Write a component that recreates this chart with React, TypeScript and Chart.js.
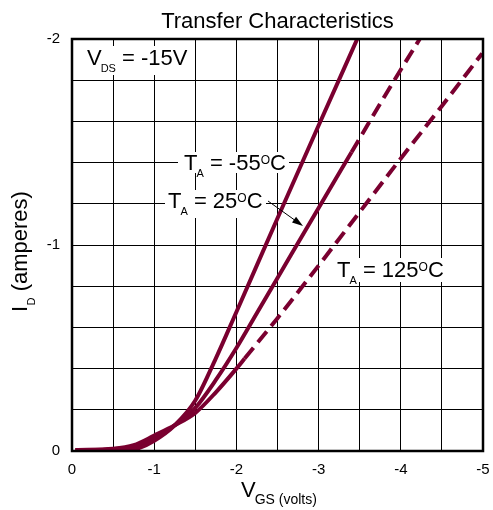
import React, { useEffect, useRef } from "react";
import { Chart, registerables } from "chart.js";

Chart.register(...registerables);

// V_GS (volts) and I_D (amperes)
const vgsM55 = [-0.6, -0.8, -1.0, -1.25, -1.5, -1.75, -2.0, -2.5, -3.0, -3.47];
const idM55 = [0.004, -0.012, -0.05, -0.125, -0.245, -0.45, -0.675, -1.13, -1.58, -2.0];

const vgs25 = [-0.04, -0.5, -0.75, -1.0, -1.25, -1.5, -1.75, -2.0, -2.25, -2.5, -3.0, -3.4, -3.8, -4.23];
const id25 = [-0.004, -0.009, -0.022, -0.06, -0.125, -0.21, -0.345, -0.5, -0.67, -0.84, -1.18, -1.45, -1.72, -2.0];

const vgs125 = [-0.04, -0.5, -0.75, -1.0, -1.25, -1.5, -1.75, -2.0, -2.1, -2.5, -3.0, -3.5, -4.0, -4.5, -4.99];
const id125 = [-0.005, -0.011, -0.028, -0.075, -0.125, -0.185, -0.285, -0.4, -0.449, -0.645, -0.9, -1.16, -1.42, -1.675, -1.93];

const dashFrom25 = -3.4;
const dashFrom125 = -2.1;

const xTickLabels = ["0", "-1", "-2", "-3", "-4", "-5"];
const yTickLabels = ["0", "-1", "-2"];

const CURVE = "#7a0030";
const FONT = '"Liberation Sans", Arial, Helvetica, sans-serif';
const f = (s: number) => `${s}px ${FONT}`;

type Part = [string, "n" | "s" | "p"];

function drawRich(ctx: CanvasRenderingContext2D, x: number, y: number, parts: Part[], main = 22, small = 11) {
  let cx = x;
  for (const [t, k] of parts) {
    if (k === "n") {
      ctx.font = f(main);
      ctx.fillText(t, cx, y);
      cx += ctx.measureText(t).width;
    } else if (k === "s") {
      ctx.font = f(small);
      cx -= 1;
      ctx.fillText(t, cx, y + 7);
      cx += ctx.measureText(t).width;
    } else {
      ctx.font = f(small + 1);
      ctx.fillText(t, cx, y - 6);
      cx += ctx.measureText(t).width;
    }
  }
}

const pts = (xs: number[], ys: number[]) => xs.map((x, i) => ({ x, y: ys[i] }));

const decor = {
  id: "decor",
  afterDraw(chart: any) {
    const ctx: CanvasRenderingContext2D = chart.ctx;
    const a = chart.chartArea;
    ctx.save();
    ctx.strokeStyle = "#000";
    ctx.lineWidth = 2.5;
    ctx.strokeRect(a.left, a.top, a.right - a.left, a.bottom - a.top);

    ctx.fillStyle = "#000";
    ctx.textBaseline = "alphabetic";

    ctx.font = f(22);
    ctx.textAlign = "center";
    ctx.fillText("Transfer Characteristics", (a.left + a.right) / 2, 28);
    ctx.textAlign = "left";

    ctx.fillStyle = "#fff";
    ctx.fillRect(84, 46, 107, 29);
    ctx.fillRect(178, 152, 111, 21);
    ctx.fillRect(165, 190, 101, 28);
    ctx.fillRect(333, 258, 112, 24);
    ctx.fillStyle = "#000";

    drawRich(ctx, 87, 65, [["V", "n"], ["DS", "s"], [" = -15V", "n"]]);
    drawRich(ctx, 184, 170, [["T", "n"], ["A", "s"], [" = -55", "n"], ["O", "p"], ["C", "n"]]);
    drawRich(ctx, 168, 208, [["T", "n"], ["A", "s"], [" = 25", "n"], ["O", "p"], ["C", "n"]]);
    drawRich(ctx, 337, 277, [["T", "n"], ["A", "s"], [" = 125", "n"], ["O", "p"], ["C", "n"]]);

    const x1 = 268, y1 = 201, x2 = 303, y2 = 226;
    const ang = Math.atan2(y2 - y1, x2 - x1);
    ctx.strokeStyle = "#000";
    ctx.lineWidth = 1;
    ctx.beginPath();
    ctx.moveTo(x1, y1);
    ctx.lineTo(x2 - 8 * Math.cos(ang), y2 - 8 * Math.sin(ang));
    ctx.stroke();
    ctx.beginPath();
    ctx.moveTo(x2, y2);
    ctx.lineTo(x2 - 11 * Math.cos(ang) + 3.5 * Math.sin(ang), y2 - 11 * Math.sin(ang) - 3.5 * Math.cos(ang));
    ctx.lineTo(x2 - 11 * Math.cos(ang) - 3.5 * Math.sin(ang), y2 - 11 * Math.sin(ang) + 3.5 * Math.cos(ang));
    ctx.closePath();
    ctx.fill();

    drawRich(ctx, 241, 497, [["V", "n"], ["GS (volts)", "s"]], 22, 14);

    ctx.save();
    ctx.translate(27, 312);
    ctx.rotate(-Math.PI / 2);
    let cx = 0;
    ctx.font = f(22);
    ctx.fillText("I", cx, 0);
    cx += ctx.measureText("I").width + 0.5;
    ctx.font = f(11);
    ctx.fillText("D", cx, 8);
    cx += ctx.measureText("D").width;
    ctx.font = f(22);
    ctx.fillText(" (amperes)", cx, 0);
    ctx.restore();

    ctx.restore();
  },
};

const near = (v: number, t: number) => Math.abs(v - t) < 1e-6;

export default function App() {
  const ref = useRef<HTMLCanvasElement>(null);
  useEffect(() => {
    const canvas = ref.current;
    if (!canvas) return;
    const line = (xs: number[], ys: number[], dashFrom: number | null) => ({
      data: pts(xs, ys),
      borderColor: CURVE,
      backgroundColor: CURVE,
      borderWidth: 4,
      pointRadius: 0,
      fill: false,
      cubicInterpolationMode: "monotone" as const,
      borderCapStyle: "butt" as const,
      segment: {
        borderDash: (c: any) => (dashFrom !== null && c.p0.parsed.x <= dashFrom + 1e-9 ? [14, 7] : undefined),
      },
    });
    const chart = new Chart(canvas, {
      type: "line",
      data: {
        datasets: [
          line(vgsM55, idM55, null),
          line(vgs25, id25, dashFrom25),
          line(vgs125, id125, dashFrom125),
        ],
      },
      options: {
        animation: false,
        responsive: false,
        layout: { padding: { left: 0, right: 10, top: 39, bottom: 0 } },
        plugins: { legend: { display: false }, tooltip: { enabled: false }, title: { display: false } },
        scales: {
          x: {
            type: "linear",
            min: -5,
            max: 0,
            reverse: true,
            afterFit: (s: any) => { s.height = 59; s.paddingLeft = 0; s.paddingRight = 0; },
            grid: { color: "#000", lineWidth: 1, drawTicks: false },
            border: { display: false },
            ticks: {
              stepSize: 0.5,
              autoSkip: false,
              maxRotation: 0,
              padding: 10,
              color: "#000",
              font: { family: FONT, size: 15 },
              callback: (v: any) => {
                const n = Number(v);
                const lbl = xTickLabels.find((t) => near(Number(t), n));
                return lbl !== undefined ? lbl : "";
              },
            },
          },
          y: {
            type: "linear",
            min: -2,
            max: 0,
            reverse: true,
            afterFit: (s: any) => { s.width = 72; s.paddingTop = 0; s.paddingBottom = 0; },
            grid: { color: "#000", lineWidth: 1, drawTicks: false },
            border: { display: false },
            ticks: {
              stepSize: 0.2,
              autoSkip: false,
              padding: 12,
              color: "#000",
              font: { family: FONT, size: 15 },
              callback: (v: any) => {
                const n = Number(v);
                const lbl = yTickLabels.find((t) => near(Number(t), n));
                return lbl !== undefined ? lbl : "";
              },
            },
          },
        },
      },
      plugins: [decor],
    });
    return () => chart.destroy();
  }, []);
  return (
    <div style={{ position: "absolute", left: 0, top: 0, width: 493, height: 510, background: "#fff" }}>
      <canvas ref={ref} width={493} height={510} style={{ display: "block" }} />
    </div>
  );
}
